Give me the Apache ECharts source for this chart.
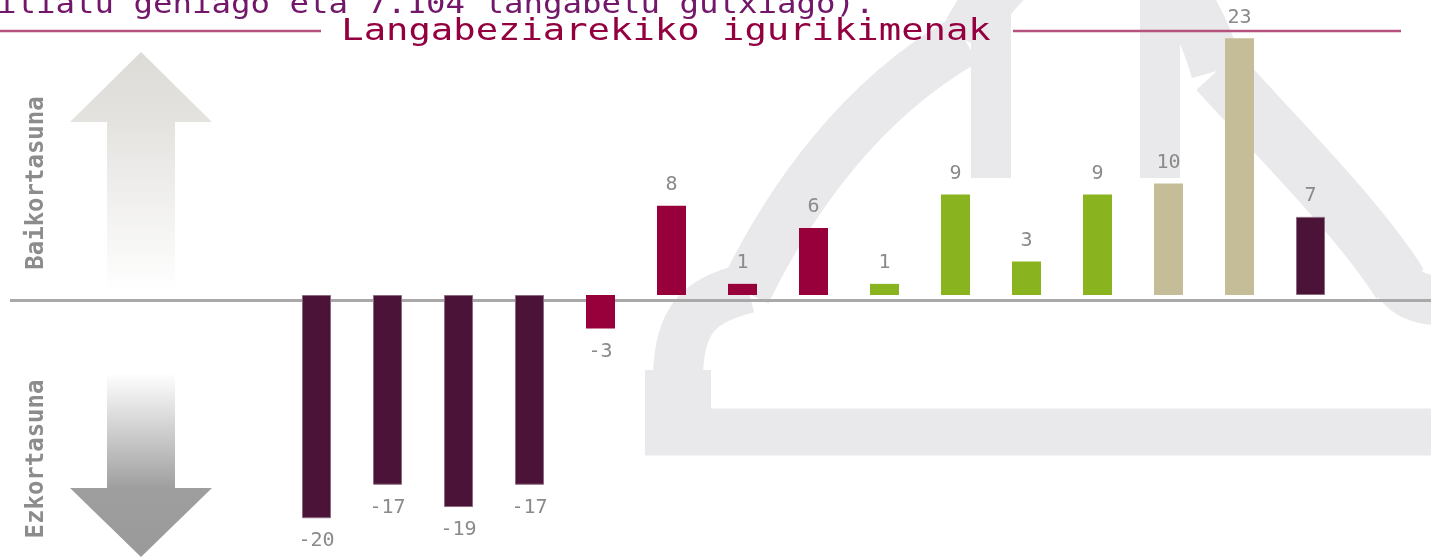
<!DOCTYPE html>
<html>
<head>
<meta charset="utf-8">
<script src="https://cdn.jsdelivr.net/npm/echarts@6/dist/echarts.min.js"></script>
<style>
  html, body { margin: 0; padding: 0; background: #fff; }
  #chart { width: 1431px; height: 557px; }
</style>
</head>
<body>
<div id="chart"></div>
<script>
// datuak
var categories = ['1', '2', '3', '4', '5', '6', '7', '8', '9', '10', '11', '12', '13', '14', '15'];
var values = [-20, -17, -19, -17, -3, 8, 1, 6, 1, 9, 3, 9, 10, 23, 7];
var groups = ['a', 'a', 'a', 'a', 'b', 'b', 'b', 'b', 'c', 'c', 'c', 'c', 'd', 'd', 'a'];
var titleText = 'Langabeziarekiko igurikimenak';
var topText = 'iliatu gehiago eta 7.104 langabetu gutxiago).';
var upLabel = 'Baikortasuna';
var downLabel = 'Ezkortasuna';

var groupColor = { a: '#4c1339', b: '#98003c', c: '#89b41f', d: '#c5bd97' };

var myChart = echarts.init(document.getElementById('chart'));

var barData = values.map(function (v, i) {
  var g = groups[i];
  return {
    value: v,
    itemStyle: {
      color: groupColor[g],
      borderColor: g === 'a' ? '#8c6a80' : groupColor[g],
      borderWidth: g === 'a' ? 1 : 0
    },
    label: {
      position: v < 0 ? 'bottom' : 'top',
      distance: v < 0 ? 13 : 11
    }
  };
});

var cloud = '#e9e8eb';

var option = {
  backgroundColor: '#ffffff',
  animation: false,
  grid: { left: 281, right: 85, top: 16, bottom: 5.3 },
  xAxis: {
    type: 'category',
    data: categories,
    show: false
  },
  yAxis: {
    type: 'value',
    min: -23,
    max: 25,
    show: false
  },
  graphic: [
    // hodeia (atzeko marka)
    { type: 'line', z: -10, shape: { x1: 645, y1: 432, x2: 1440, y2: 432 }, style: { stroke: cloud, lineWidth: 47 } },
    { type: 'line', z: -10, shape: { x1: 678, y1: 455, x2: 678, y2: 370 }, style: { stroke: cloud, lineWidth: 66 } },
    { type: 'bezierCurve', z: -10, shape: { x1: 678, y1: 380, cpx1: 678, cpy1: 318, cpx2: 700, cpy2: 300, x2: 748, y2: 288 }, style: { stroke: cloud, lineWidth: 50, fill: null } },
    { type: 'bezierCurve', z: -10, shape: { x1: 745, y1: 292, cpx1: 790, cpy1: 200, cpx2: 860, cpy2: 100, x2: 965, y2: 40 }, style: { stroke: cloud, lineWidth: 52, fill: null } },
    { type: 'bezierCurve', z: -10, shape: { x1: 965, y1: 40, cpx1: 1030, cpy1: -95, cpx2: 1170, cpy2: -95, x2: 1217, y2: 71 }, style: { stroke: cloud, lineWidth: 52, fill: null } },
    { type: 'bezierCurve', z: -10, shape: { x1: 1217, y1: 71, cpx1: 1280, cpy1: 140, cpx2: 1360, cpy2: 220, x2: 1400, y2: 284 }, style: { stroke: cloud, lineWidth: 56, fill: null } },
    { type: 'bezierCurve', z: -10, shape: { x1: 1398, y1: 282, cpx1: 1415, cpy1: 305, cpx2: 1440, cpy2: 300, x2: 1480, y2: 300 }, style: { stroke: cloud, lineWidth: 50, fill: null } },
    { type: 'line', z: -10, shape: { x1: 991, y1: 0, x2: 991, y2: 178 }, style: { stroke: cloud, lineWidth: 40 } },
    { type: 'line', z: -10, shape: { x1: 1160, y1: 0, x2: 1160, y2: 178 }, style: { stroke: cloud, lineWidth: 40 } },

    // geziak
    {
      type: 'polygon', z: -5,
      shape: { points: [[141, 52], [212, 122], [175, 122], [175, 292], [107, 292], [107, 122], [70, 122]] },
      style: {
        fill: new echarts.graphic.LinearGradient(0, 0, 0, 1, [
          { offset: 0, color: '#dcdbd6' },
          { offset: 0.3, color: '#e4e3e0' },
          { offset: 1, color: '#ffffff' }
        ])
      }
    },
    {
      type: 'polygon', z: -5,
      shape: { points: [[107, 373], [175, 373], [175, 488], [212, 488], [141, 557], [70, 488], [107, 488]] },
      style: {
        fill: new echarts.graphic.LinearGradient(0, 0, 0, 1, [
          { offset: 0, color: '#ffffff' },
          { offset: 0.55, color: '#ababab' },
          { offset: 0.63, color: '#9e9e9e' },
          { offset: 1, color: '#9a9a9a' }
        ])
      }
    },

    // zero lerroa
    { type: 'line', z: -2, shape: { x1: 10, y1: 300.5, x2: 1431, y2: 300.5 }, style: { stroke: '#a9a9a9', lineWidth: 3 } },

    // izenburua eta lerroak
    { type: 'line', shape: { x1: 0, y1: 31, x2: 321, y2: 31 }, style: { stroke: '#b6527d', lineWidth: 2.5 } },
    { type: 'line', shape: { x1: 1013, y1: 31, x2: 1401, y2: 31 }, style: { stroke: '#b6527d', lineWidth: 2.5 } },
    {
      type: 'text', x: 666, y: 32, scaleX: 1.2,
      style: {
        text: titleText, x: 0, y: 0, align: 'center', verticalAlign: 'middle',
        font: '31px "DejaVu Sans Mono"', fill: '#94003f'
      }
    },
    {
      type: 'text', x: -3, y: 5, scaleX: 1.117,
      style: {
        text: topText, x: 0, y: 0, align: 'left', verticalAlign: 'middle',
        font: '29px "DejaVu Sans Mono"', fill: '#73176a'
      }
    },

    // ardatzaren testuak
    {
      type: 'text', x: 37, y: 183, rotation: Math.PI / 2,
      style: {
        text: upLabel, x: 0, y: 0, align: 'center', verticalAlign: 'middle',
        font: 'bold 24px "DejaVu Sans Mono"', fill: '#8c8c8c'
      }
    },
    {
      type: 'text', x: 37, y: 459, rotation: Math.PI / 2,
      style: {
        text: downLabel, x: 0, y: 0, align: 'center', verticalAlign: 'middle',
        font: 'bold 24px "DejaVu Sans Mono"', fill: '#8c8c8c'
      }
    }
  ],
  series: [{
    type: 'bar',
    data: barData,
    barWidth: 29,
    z: 5,
    label: {
      show: true,
      color: '#8a8a8a',
      fontFamily: 'DejaVu Sans Mono',
      fontSize: 20
    }
  }]
};

myChart.setOption(option);
</script>
</body>
</html>
